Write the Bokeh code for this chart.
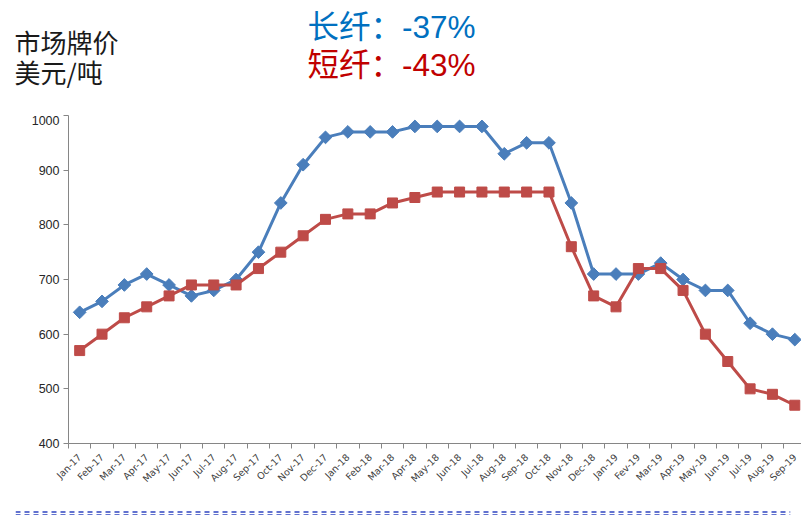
import math
from bokeh.plotting import figure
from bokeh.models import FixedTicker, Label, Span, Range1d
from bokeh.layouts import column
from bokeh.embed import file_html
from bokeh.resources import INLINE

months = ["Jan-17", "Feb-17", "Mar-17", "Apr-17", "May-17", "Jun-17", "Jul-17", "Aug-17",
          "Sep-17", "Oct-17", "Nov-17", "Dec-17", "Jan-18", "Feb-18", "Mar-18", "Apr-18",
          "May-18", "Jun-18", "Jul-18", "Aug-18", "Sep-18", "Oct-18", "Nov-18", "Dec-18",
          "Jan-19", "Fev-19", "Mar-19", "Apr-19", "May-19", "Jun-19", "Jul-19", "Aug-19", "Sep-19"]
long_fiber = [640, 660, 690, 710, 690, 670, 680, 700, 750, 840, 910, 960, 970, 970, 970, 980,
              980, 980, 980, 930, 950, 950, 840, 710, 710, 710, 730, 700, 680, 680, 620, 600, 590]
short_fiber = [570, 600, 630, 650, 670, 690, 690, 690, 720, 750, 780, 810, 820, 820, 840, 850,
               860, 860, 860, 860, 860, 860, 760, 670, 650, 720, 720, 680, 600, 550, 500, 490, 470]
y_ticks = [400, 500, 600, 700, 800, 900, 1000]
header_texts = ["市场牌价", "美元/吨", "长纤：-37%", "短纤：-43%"]

xs = list(range(len(months)))

W = 801
HEADER_H = 115
FRAME_LEFT = 68
FRAME_W = W - FRAME_LEFT
FRAME_H = 328
BOTTOM = 52
FOOT_H = 20


def no_align(fig):
    if hasattr(fig, "frame_align"):
        fig.frame_align = False


# ---------- header panel (pixel coordinates, y from top) ----------
h = figure(frame_width=W, frame_height=HEADER_H, output_backend="svg", toolbar_location=None,
           x_range=Range1d(0, W), y_range=Range1d(HEADER_H, 0),
           min_border_left=0, min_border_right=0, min_border_top=0, min_border_bottom=0)
h.axis.visible = False
h.grid.visible = False
h.outline_line_color = None
no_align(h)

font_stack = "'Liberation Sans', 'Noto Sans CJK SC'"
header_style = [
    (14, 22, "26px", "#1a1a1a", "Noto Sans CJK SC"),
    (14, 52, "26px", "#1a1a1a", "Noto Sans CJK SC"),
    (307, 8, "31.5px", "#0070C0", font_stack),
    (307, 46, "31.5px", "#C00000", font_stack),
]
for txt, (x, y, size, color, font) in zip(header_texts, header_style):
    h.add_layout(Label(x=x, y=y, text=txt, text_font=font, text_font_size=size,
                       text_color=color, text_baseline="top"))

# ---------- main chart ----------
p = figure(frame_width=FRAME_W, frame_height=FRAME_H, output_backend="svg",
           toolbar_location=None,
           x_range=Range1d(-0.5, 32.3), y_range=Range1d(400, 1000),
           min_border_left=FRAME_LEFT, min_border_right=0, min_border_top=0,
           min_border_bottom=BOTTOM)
p.outline_line_color = None
p.xgrid.grid_line_color = None
p.ygrid.grid_line_color = None
no_align(p)

p.yaxis.ticker = FixedTicker(ticks=y_ticks)
p.yaxis.axis_line_color = "#868686"
p.yaxis.major_tick_line_color = "#868686"
p.yaxis.major_tick_in = 0
p.yaxis.major_tick_out = 5
p.yaxis.minor_tick_line_color = None
p.yaxis.major_label_text_font = "Liberation Sans"
p.yaxis.major_label_text_font_size = "12.5px"
p.yaxis.major_label_text_color = "#262626"
p.yaxis.major_label_standoff = 4

p.xaxis.ticker = FixedTicker(ticks=xs, minor_ticks=[i - 0.5 for i in range(len(months) + 1)])
p.xaxis.major_label_overrides = {i: m for i, m in enumerate(months)}
p.xaxis.major_label_orientation = math.pi / 4
p.xaxis.axis_line_color = "#868686"
p.xaxis.major_tick_line_color = None
p.xaxis.minor_tick_line_color = "#868686"
p.xaxis.minor_tick_in = 0
p.xaxis.minor_tick_out = 5
p.xaxis.major_label_text_font = "DejaVu Sans"
p.xaxis.major_label_text_font_size = "9.5px"
p.xaxis.major_label_text_color = "#404040"
p.xaxis.major_label_standoff = 6

blue = "#4A7EBB"
red = "#BE4B48"
p.line(xs, long_fiber, line_color=blue, line_width=3)
p.scatter(xs, long_fiber, marker="square", angle=math.pi / 4, size=9,
          fill_color=blue, line_color=blue)
p.line(xs, short_fiber, line_color=red, line_width=3)
p.scatter(xs, short_fiber, marker="square", size=10, fill_color=red, line_color=red)

# ---------- decorative double dashed line at the bottom (y from top, pixels) ----------
d = figure(frame_width=W - 26, frame_height=FOOT_H, output_backend="svg",
           toolbar_location=None,
           x_range=Range1d(0, 1), y_range=Range1d(FOOT_H, 0),
           min_border_left=15, min_border_right=11, min_border_top=0, min_border_bottom=0)
d.axis.visible = False
d.grid.visible = False
d.outline_line_color = None
no_align(d)
for loc in (16.5, 19.5):
    d.add_layout(Span(location=loc, dimension="width", line_color="#2F44C0",
                      line_width=1.3, line_dash="5 4"))

layout = column(h, p, d, spacing=0)
open("out.html", "w").write(file_html(layout, INLINE))
